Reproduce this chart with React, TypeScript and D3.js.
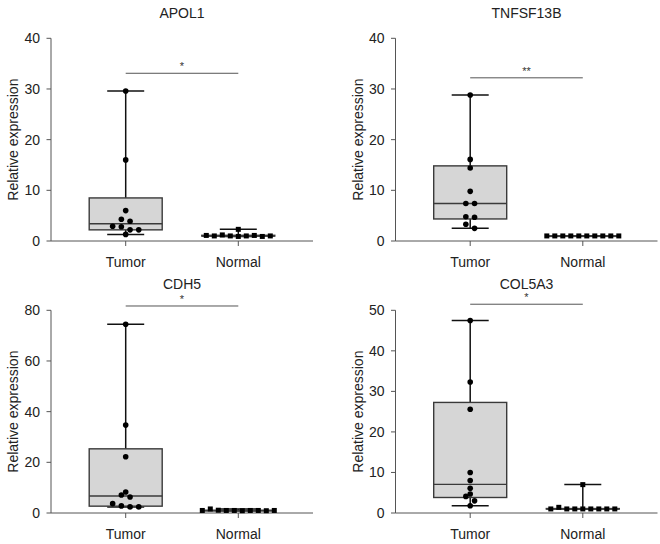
import React from "react";
import * as d3 from "d3";

const titles = ["APOL1", "TNFSF13B", "CDH5", "COL5A3"];
const categories = ["Tumor", "Normal"];
const yMaxes = [40, 40, 80, 50];
const yTickSteps = [10, 10, 20, 10];
const sigLabels = ["*", "**", "*", "*"];
const sigLevels = [33.1, 32.2, 81.7, 51.5];

const tumorAPOL1 = [29.6, 16.0, 6.0, 4.3, 3.9, 2.9, 2.8, 2.2, 2.2, 1.3];
const normalAPOL1 = [2.3, 1.1, 1.0, 1.2, 1.0, 0.9, 1.0, 1.1, 0.9, 1.0];
const tumorTNFSF13B = [28.8, 16.1, 14.4, 9.8, 7.4, 7.4, 4.8, 4.7, 3.3, 2.5];
const normalTNFSF13B = [1.0, 1.0, 1.0, 1.0, 1.0, 1.0, 1.0, 1.0, 1.0, 1.0];
const tumorCDH5 = [74.5, 34.7, 22.2, 8.3, 7.1, 6.3, 3.7, 2.8, 2.4, 2.4];
const normalCDH5 = [1.0, 1.6, 1.1, 1.0, 1.0, 0.9, 1.0, 1.0, 0.9, 1.0];
const tumorCOL5A3 = [47.5, 32.3, 25.6, 10.0, 8.0, 6.1, 4.7, 4.1, 3.0, 1.8];
const normalCOL5A3 = [1.0, 1.4, 1.0, 1.0, 1.0, 1.0, 1.0, 1.0, 1.0, 7.0];

const tumorSeries = [tumorAPOL1, tumorTNFSF13B, tumorCDH5, tumorCOL5A3];
const normalSeries = [normalAPOL1, normalTNFSF13B, normalCDH5, normalCOL5A3];

const FONT = "'Liberation Sans', Arial, Helvetica, sans-serif";
const W = 660;
const H = 544;

function q(sorted: number[], p: number) {
  const n = sorted.length;
  let h = (n + 1) * p - 1;
  h = Math.max(0, Math.min(n - 1, h));
  const lo = Math.floor(h);
  const hi = Math.min(n - 1, lo + 1);
  return sorted[lo] + (h - lo) * (sorted[hi] - sorted[lo]);
}

function layoutRows(values: number[], y: (v: number) => number, step: number, thr: number) {
  const idx = values.map((v, i) => i).sort((a, b) => values[a] - values[b]);
  const offsets: number[] = new Array(values.length).fill(0);
  let row: number[] = [];
  let rowStartY = 0;
  const flush = () => {
    const ordered = [...row].sort((a, b) => a - b);
    ordered.forEach((id, k) => {
      offsets[id] = (k - (ordered.length - 1) / 2) * step;
    });
  };
  idx.forEach((id) => {
    const py = y(values[id]);
    if (row.length === 0 || Math.abs(py - rowStartY) > thr) {
      if (row.length) flush();
      row = [id];
      rowStartY = py;
    } else {
      row.push(id);
    }
  });
  if (row.length) flush();
  return offsets;
}

function Panel({ i }: { i: number }) {
  const col = i % 2;
  const rowI = Math.floor(i / 2);
  const axisX = col === 0 ? 51 : 395.5;
  const right = axisX + 262;
  const top = rowI === 0 ? 38.3 : 310.3;
  const bottom = rowI === 0 ? 241 : 513;
  const y = d3.scaleLinear().domain([0, yMaxes[i]]).range([bottom, top]);
  const x = d3.scalePoint().domain(categories).range([axisX + 74.7, axisX + 187.3]);
  const ticks = d3.range(0, yMaxes[i] + 0.001, yTickSteps[i]);
  const groups = [tumorSeries[i], normalSeries[i]];
  const boxHalf = 36.5;
  const capHalf = 18.5;
  const titleY = rowI === 0 ? 18 : 289;
  const plotMid = (axisX + right) / 2;

  return (
    <g>
      <text x={plotMid} y={titleY} textAnchor="middle" fontSize={14} fill="#222" fontFamily={FONT}>
        {titles[i]}
      </text>
      <text
        transform={`translate(${axisX - 33},${(top + bottom) / 2}) rotate(-90)`}
        textAnchor="middle"
        fontSize={14}
        fill="#222"
        fontFamily={FONT}
      >
        Relative expression
      </text>
      <line x1={axisX} x2={axisX} y1={top} y2={bottom} stroke="#555" strokeWidth={1} />
      <line x1={axisX} x2={right} y1={bottom} y2={bottom} stroke="#555" strokeWidth={1} />
      {ticks.map((t) => (
        <g key={t}>
          <line x1={axisX - 4.5} x2={axisX} y1={y(t)} y2={y(t)} stroke="#555" strokeWidth={1} />
          <text x={axisX - 11} y={y(t) + 5} textAnchor="end" fontSize={14} fill="#222" fontFamily={FONT}>
            {t}
          </text>
        </g>
      ))}
      {categories.map((c) => (
        <g key={c}>
          <line x1={x(c)!} x2={x(c)!} y1={bottom} y2={bottom + 5} stroke="#555" strokeWidth={1} />
          <text x={x(c)!} y={bottom + 26} textAnchor="middle" fontSize={14} fill="#222" fontFamily={FONT}>
            {c}
          </text>
        </g>
      ))}
      <line
        x1={x(categories[0])!}
        x2={x(categories[1])!}
        y1={y(sigLevels[i])}
        y2={y(sigLevels[i])}
        stroke="#555"
        strokeWidth={1}
      />
      <text
        x={(x(categories[0])! + x(categories[1])!) / 2}
        y={y(sigLevels[i]) - 3}
        textAnchor="middle"
        fontSize={11}
        fill="#333"
        fontFamily={FONT}
      >
        {sigLabels[i]}
      </text>
      {groups.map((vals, gi) => {
        const cx = x(categories[gi])!;
        const s = [...vals].sort((a, b) => a - b);
        const q1 = q(s, 0.25);
        const med = q(s, 0.5);
        const q3 = q(s, 0.75);
        const mn = s[0];
        const mx = s[s.length - 1];
        const isTumor = gi === 0;
        const step = isTumor ? 8.7 : 8;
        const offs = layoutRows(vals, y, step, isTumor ? 4.5 : 5);
        return (
          <g key={gi}>
            <line x1={cx} x2={cx} y1={y(q3)} y2={y(mx)} stroke="#111" strokeWidth={1.5} />
            <line x1={cx} x2={cx} y1={y(q1)} y2={y(mn)} stroke="#111" strokeWidth={1.5} />
            <line x1={cx - capHalf} x2={cx + capHalf} y1={y(mx)} y2={y(mx)} stroke="#111" strokeWidth={1.5} />
            <line x1={cx - capHalf} x2={cx + capHalf} y1={y(mn)} y2={y(mn)} stroke="#111" strokeWidth={1.5} />
            <rect
              x={cx - boxHalf}
              y={y(q3)}
              width={boxHalf * 2}
              height={Math.max(0.5, y(q1) - y(q3))}
              fill="#d6d6d6"
              stroke="#3a3a3a"
              strokeWidth={1.4}
            />
            <line x1={cx - boxHalf} x2={cx + boxHalf} y1={y(med)} y2={y(med)} stroke="#3a3a3a" strokeWidth={1.4} />
            {vals.map((v, k) =>
              isTumor ? (
                <circle key={k} cx={cx + offs[k]} cy={y(v)} r={2.8} fill="#000" />
              ) : (
                <rect key={k} x={cx + offs[k] - 2.5} y={y(v) - 2.5} width={5} height={5} fill="#000" />
              )
            )}
          </g>
        );
      })}
    </g>
  );
}

export default function App() {
  return (
    <svg width={W} height={H} style={{ display: "block", position: "absolute", left: 0, top: 0, background: "#fff" }}>
      <rect width={W} height={H} fill="#fff" />
      {titles.map((t, i) => (
        <Panel key={t} i={i} />
      ))}
    </svg>
  );
}
